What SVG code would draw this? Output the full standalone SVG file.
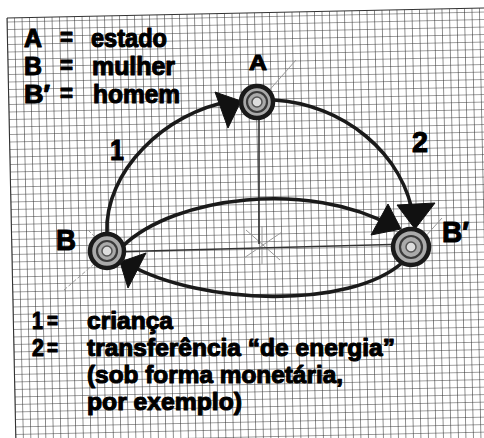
<svg xmlns="http://www.w3.org/2000/svg" width="484" height="438" viewBox="0 0 484 438">
<defs>
<pattern id="grid" width="7.5" height="7.5" patternUnits="userSpaceOnUse">
<path d="M7.5 0V7.5M0 7.5H7.5" fill="none" stroke="#333" stroke-width="1.1"/>
</pattern>
</defs>
<style>
.t{font-family:"Liberation Sans",Arial,sans-serif;font-weight:bold;fill:#000;stroke:#000;stroke-width:1.1;stroke-linejoin:round;}
.leg{font-size:25px;}
.legb{font-size:24px;}
.lab{font-size:30px;}
.arc{fill:none;stroke:#1a1a1a;stroke-width:3.6;stroke-linecap:round;}
.thin{fill:none;stroke:#333;stroke-width:1.6;}
.guide{fill:none;stroke:#999;stroke-width:1;}
.head{fill:#111;stroke:#111;stroke-width:1;stroke-linejoin:round;}
.ring{fill:#aaa;stroke:#1a1a1a;stroke-width:4.5;}
.ring2{fill:none;stroke:#3a3a3a;stroke-width:2.2;}
.ring3{fill:#ddd;stroke:#555;stroke-width:1.5;}
</style>
<rect width="484" height="438" fill="#fff"/>
<g id="grid-paper" transform="rotate(-1.2 7 18)">
<rect x="7" y="18" width="480" height="445" fill="url(#grid)"/>
<path d="M7 18H487M7 18V463" stroke="#333" stroke-width="1.1" fill="none"/>
</g>
<g id="guides">
<path class="guide" d="M246 230L280 260M244 258L282 232M262 226V264"/>
<path class="guide" d="M88 230L102 244M64 290L94 264" stroke-dasharray="4 2"/>
<path class="guide" d="M266 94L296 60M424 238L442 218"/>
</g>
<g id="connectors">
<path class="thin" d="M108 252L410 244"/>
<path class="thin" d="M259 120V244"/>
<path class="arc" d="M107 233C104 172 165 112 232 101"/>
<path class="arc" d="M274 100C342 104 404 152 414 220"/>
<path class="arc" d="M123 246C175 196 310 180 392 226"/>
<path class="arc" d="M403 262C350 310 200 305 128 264"/>
<polygon class="head" points="215,92 241,101 228,128"/>
<polygon class="head" points="397,205 435,203 415,229"/>
<polygon class="head" points="388,204 371,235 401,229"/>
<polygon class="head" points="120,262 146,253 128,288"/>
</g>
<g id="node-A">
<circle class="ring" cx="257" cy="102" r="16"/>
<circle class="ring2" cx="257" cy="102" r="10"/>
<circle class="ring3" cx="257" cy="102" r="5"/>
<text class="t" x="249" y="70" font-size="22" textLength="18" lengthAdjust="spacingAndGlyphs">A</text>
</g>
<g id="node-B">
<circle class="ring" cx="107" cy="251" r="17"/>
<circle class="ring2" cx="107" cy="251" r="10"/>
<circle class="ring3" cx="107" cy="251" r="5"/>
<text class="t lab" x="56" y="250" textLength="20" lengthAdjust="spacingAndGlyphs">B</text>
</g>
<g id="node-Bp">
<circle class="ring" cx="411" cy="247" r="18"/>
<circle class="ring2" cx="411" cy="247" r="11"/>
<circle class="ring3" cx="411" cy="247" r="5"/>
<text class="t lab" x="442" y="242" textLength="27" lengthAdjust="spacingAndGlyphs">B′</text>
</g>
<g id="edge-labels">
<text class="t lab" x="110" y="160" textLength="14" lengthAdjust="spacingAndGlyphs">1</text>
<text class="t lab" x="412" y="152" textLength="16" lengthAdjust="spacingAndGlyphs">2</text>
</g>
<g id="legend-top">
<text class="t leg" x="24" y="47" textLength="18" lengthAdjust="spacingAndGlyphs">A</text>
<text class="t leg" x="60" y="46" textLength="13" lengthAdjust="spacingAndGlyphs">=</text>
<text class="t leg" x="91" y="47" textLength="76" lengthAdjust="spacingAndGlyphs">estado</text>
<text class="t leg" x="24" y="75" textLength="18" lengthAdjust="spacingAndGlyphs">B</text>
<text class="t leg" x="60" y="74" textLength="13" lengthAdjust="spacingAndGlyphs">=</text>
<text class="t leg" x="92" y="75" textLength="83" lengthAdjust="spacingAndGlyphs">mulher</text>
<text class="t leg" x="24" y="103" textLength="26" lengthAdjust="spacingAndGlyphs">B′</text>
<text class="t leg" x="60" y="102" textLength="13" lengthAdjust="spacingAndGlyphs">=</text>
<text class="t leg" x="93" y="103" textLength="87" lengthAdjust="spacingAndGlyphs">homem</text>
</g>
<g id="legend-bottom">
<text class="t legb" x="32" y="329" textLength="11" lengthAdjust="spacingAndGlyphs">1</text>
<text class="t legb" x="47" y="329" textLength="11" lengthAdjust="spacingAndGlyphs">=</text>
<text class="t legb" x="87" y="329" textLength="86" lengthAdjust="spacingAndGlyphs">criança</text>
<text class="t legb" x="32" y="356" textLength="12" lengthAdjust="spacingAndGlyphs">2</text>
<text class="t legb" x="47" y="356" textLength="11" lengthAdjust="spacingAndGlyphs">=</text>
<text class="t legb" x="87" y="356" textLength="308" lengthAdjust="spacingAndGlyphs">transferência “de energia”</text>
<text class="t legb" x="87" y="383" textLength="256" lengthAdjust="spacingAndGlyphs">(sob forma monetária,</text>
<text class="t legb" x="87" y="410" textLength="155" lengthAdjust="spacingAndGlyphs">por exemplo)</text>
</g>
</svg>
